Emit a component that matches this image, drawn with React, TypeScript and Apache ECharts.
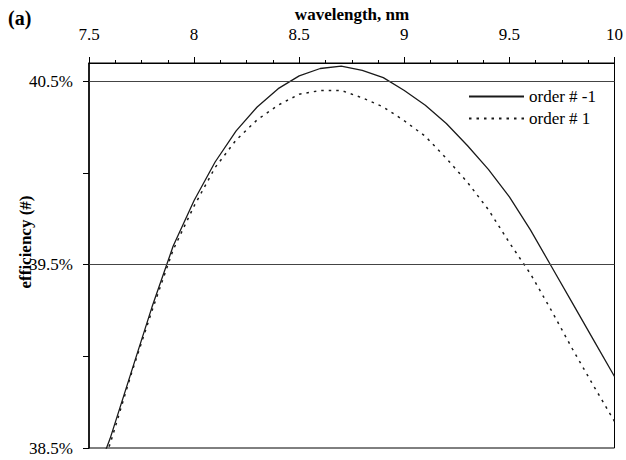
import React, { useEffect, useRef } from "react";
import * as echarts from "echarts";

const wavelengths = [7.58, 7.6, 7.7, 7.8, 7.9, 8.0, 8.1, 8.2, 8.3, 8.4, 8.5, 8.6, 8.7, 8.8, 8.9, 9.0, 9.1, 9.2, 9.3, 9.4, 9.5, 9.6, 9.7, 9.8, 9.9, 10.0];
const orderMinus1 = [38.49, 38.55, 38.91, 39.27, 39.6, 39.85, 40.06, 40.23, 40.36, 40.46, 40.53, 40.57, 40.583, 40.56, 40.52, 40.45, 40.37, 40.27, 40.15, 40.02, 39.87, 39.69, 39.49, 39.29, 39.09, 38.89];
const orderPlus1 = [38.47, 38.52, 38.9, 39.25, 39.58, 39.82, 40.03, 40.18, 40.29, 40.37, 40.43, 40.45, 40.45, 40.41, 40.36, 40.285, 40.2, 40.08, 39.95, 39.8, 39.62, 39.45, 39.25, 39.04, 38.84, 38.645];
const yTickValues = [38.5, 39, 39.5, 40, 40.5];
const yLabelValues = [38.5, 39.5, 40.5];
const gridLineValues = [39.5, 40.5];
const seriesNames = ["order # -1", "order # 1"];

const FONT = "Liberation Serif";

export default function App() {
  const ref = useRef<HTMLDivElement>(null);
  useEffect(() => {
    if (!ref.current) return;
    const chart = echarts.init(ref.current, null, { renderer: "svg" });
    const pairs = (ys: number[]) => wavelengths.map((x, i) => [x, ys[i]]);
    chart.setOption({
      animation: false,
      backgroundColor: "#fff",
      textStyle: { fontFamily: FONT },
      grid: {
        left: 89,
        right: 11,
        top: 63,
        bottom: 12,
        show: true,
        borderColor: "#000",
        borderWidth: 1,
      },
      legend: {
        orient: "vertical",
        left: 468,
        top: 88,
        padding: 0,
        itemWidth: 55,
        itemHeight: 12,
        itemGap: 5,
        itemStyle: { opacity: 0 },
        textStyle: { fontFamily: FONT, fontSize: 17, color: "#000" },
        data: seriesNames,
      },
      xAxis: {
        type: "value",
        position: "top",
        min: 7.5,
        max: 10,
        interval: 0.5,
        axisLine: { show: true, lineStyle: { color: "#000", width: 1 } },
        axisTick: { show: true, length: 6, lineStyle: { color: "#000" } },
        minorTick: { show: true, splitNumber: 4, length: 3, lineStyle: { color: "#000" } },
        splitLine: { show: false },
        axisLabel: { margin: 20, fontFamily: FONT, fontSize: 17, color: "#000" },
      },
      yAxis: {
        type: "value",
        min: 38.5,
        max: 40.6,
        interval: 0.5,
        axisLine: { show: true, lineStyle: { color: "#000", width: 1.5 } },
        axisTick: { show: true, length: 6, customValues: yTickValues, lineStyle: { color: "#000" } },
        splitLine: { show: false },
        axisLabel: {
          margin: 16,
          fontFamily: FONT,
          fontSize: 17,
          color: "#000",
          customValues: yLabelValues,
          formatter: (v: number) => (yLabelValues.some((t) => Math.abs(t - v) < 1e-6) ? v.toFixed(1) + "%" : ""),
        },
      },
      graphic: [
        { type: "text", left: 8, top: 8, style: { text: "(a)", font: `bold 20px ${FONT}`, fill: "#000" } },
        { type: "text", x: 352, y: 14, style: { text: "wavelength, nm", font: `bold 17px ${FONT}`, fill: "#000", align: "center", verticalAlign: "middle" } },
        { type: "text", x: 25, y: 242, rotation: Math.PI / 2, style: { text: "efficiency (#)", font: `bold 17px ${FONT}`, fill: "#000", align: "center", verticalAlign: "middle" } },
      ],
      series: [
        {
          name: seriesNames[0],
          type: "line",
          data: pairs(orderMinus1),
          symbol: "none",
          lineStyle: { color: "#1a1a1a", width: 1.3, type: "solid" },
          itemStyle: { color: "#1a1a1a", opacity: 0 },
          markLine: {
            silent: true,
            symbol: "none",
            label: { show: false },
            lineStyle: { color: "#444", width: 1, type: "solid" },
            data: gridLineValues.map((v) => ({ yAxis: v })),
          },
          z: 3,
        },
        {
          name: seriesNames[1],
          type: "line",
          data: pairs(orderPlus1),
          symbol: "none",
          lineStyle: { color: "#1a1a1a", width: 1.5, type: [2.5, 5] },
          itemStyle: { color: "#1a1a1a", opacity: 0 },
          z: 3,
        },
      ],
    });
    return () => chart.dispose();
  }, []);
  return <div ref={ref} style={{ width: 626, height: 460, position: "absolute", left: 0, top: 0 }} />;
}
